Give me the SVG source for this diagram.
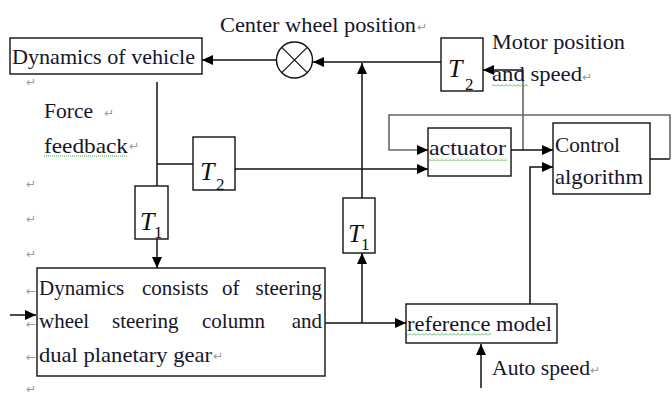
<svg xmlns="http://www.w3.org/2000/svg" width="672" height="399" viewBox="0 0 672 399" font-family="Liberation Serif, DejaVu Serif, serif">
<style>
.bg{fill:#fff}
.box{fill:#fff;stroke:#111;stroke-width:1.4}
.ln{fill:none;stroke:#111;stroke-width:1.5}
.gl{fill:none;stroke:#666;stroke-width:1.6}
.t{font-size:21px;fill:#15152c}
.m{font-style:italic;font-size:26px;fill:#111}
.s{font-size:17px;fill:#111}
.pm{font-size:12px;fill:#999}
</style>
<defs>
<marker id="ah" markerUnits="userSpaceOnUse" markerWidth="11" markerHeight="10" refX="11" refY="5" orient="auto">
<path d="M0 0 L11 5 L0 10 Z" fill="#000"/>
</marker>
<pattern id="wavy" width="4" height="3" patternUnits="userSpaceOnUse">
<path d="M0 2.5 L2 0.5 L4 2.5" fill="none" stroke="#3aa33a" stroke-width="0.8"/>
</pattern>
</defs>
<rect class="bg" x="0" y="0" width="672" height="399"/>

<g id="connectors">
<line class="ln" x1="277" y1="60" x2="202" y2="60" marker-end="url(#ah)"/>
<line class="ln" x1="441" y1="62" x2="313" y2="62" marker-end="url(#ah)"/>
<line class="ln" x1="362" y1="198" x2="362" y2="63" marker-end="url(#ah)"/>
<line class="gl" x1="523" y1="70" x2="523" y2="150"/>
<line class="ln" x1="523" y1="70" x2="483" y2="70" marker-end="url(#ah)"/>
<line class="ln" x1="157" y1="82" x2="157" y2="186"/>
<line class="ln" x1="157" y1="164" x2="193" y2="164"/>
<line class="ln" x1="235" y1="169" x2="428" y2="169" marker-end="url(#ah)"/>
<line class="ln" x1="157" y1="239" x2="157" y2="268" marker-end="url(#ah)"/>
<line class="ln" x1="325" y1="323" x2="406" y2="323" marker-end="url(#ah)"/>
<line class="ln" x1="362" y1="323" x2="362" y2="253" marker-end="url(#ah)"/>
<line class="ln" x1="481" y1="388" x2="481" y2="344" marker-end="url(#ah)"/>
<polyline class="ln" points="530,304 530,167 553,167" marker-end="url(#ah)"/>
<line class="ln" x1="511" y1="150" x2="553" y2="150" marker-end="url(#ah)"/>
<line class="ln" x1="650" y1="159" x2="670" y2="159"/>
<polyline class="gl" points="670,159 670,115 389,115 389,150 420,150"/>
<line class="ln" x1="418" y1="150" x2="428" y2="150" marker-end="url(#ah)"/>
<line class="ln" x1="10" y1="315" x2="36" y2="315" marker-end="url(#ah)"/>
</g>

<g id="vehicle">
<rect class="box" x="10" y="38" width="192" height="36"/>
<text class="t" x="12" y="64" textLength="183" lengthAdjust="spacingAndGlyphs">Dynamics of vehicle</text>
</g>

<g id="junction">
<circle cx="294.5" cy="60" r="18" fill="#fff" stroke="#111" stroke-width="1.4"/>
<path d="M281.8 47.3 L307.2 72.7 M307.2 47.3 L281.8 72.7" stroke="#111" stroke-width="1.2"/>
</g>

<g id="t2-top">
<rect class="box" x="441" y="38" width="42" height="53"/>
<text class="m" x="448" y="77">T</text>
<text class="s" x="465" y="90">2</text>
</g>

<g id="t2-mid">
<rect class="box" x="193" y="137" width="42" height="53"/>
<text class="m" x="200" y="180">T</text>
<text class="s" x="216" y="190">2</text>
</g>

<g id="t1-left">
<rect class="box" x="135" y="186" width="33" height="53"/>
<text class="m" x="140" y="230">T</text>
<text class="s" x="154" y="238">1</text>
</g>

<g id="t1-right">
<rect class="box" x="343" y="198" width="32" height="55"/>
<text class="m" x="348" y="242">T</text>
<text class="s" x="361" y="250">1</text>
</g>

<g id="actuator">
<rect class="box" x="428" y="128" width="83" height="48"/>
<text class="t" x="429" y="155" textLength="77" lengthAdjust="spacingAndGlyphs">actuator</text>
<rect x="429" y="158" width="78" height="3" fill="url(#wavy)"/>
</g>

<g id="control">
<rect class="box" x="553" y="123" width="97" height="71"/>
<text class="t" x="555" y="152" textLength="65" lengthAdjust="spacingAndGlyphs">Control</text>
<text class="t" x="555" y="184" textLength="88" lengthAdjust="spacingAndGlyphs">algorithm</text>
</g>

<g id="steering">
<rect class="box" x="37" y="268" width="288" height="108"/>
<text class="t" y="295"><tspan x="39">Dynamics</tspan><tspan x="142">consists</tspan><tspan x="222">of</tspan><tspan x="322" text-anchor="end">steering</tspan></text>
<text class="t" y="328"><tspan x="39">wheel</tspan><tspan x="112">steering</tspan><tspan x="202">column</tspan><tspan x="322" text-anchor="end">and</tspan></text>
<text class="t" x="39" y="362" textLength="173" lengthAdjust="spacingAndGlyphs">dual planetary gear</text>
</g>

<g id="reference">
<rect class="box" x="406" y="304" width="151" height="39"/>
<text class="t" x="407" y="331" textLength="145" lengthAdjust="spacingAndGlyphs">reference model</text>
<rect x="407" y="333" width="84" height="3" fill="url(#wavy)"/>
</g>

<g id="labels">
<text class="t" x="220" y="32" textLength="196" lengthAdjust="spacingAndGlyphs">Center wheel position</text>
<text class="t" x="492" y="49" textLength="133" lengthAdjust="spacingAndGlyphs">Motor position</text>
<text class="t" x="492" y="81" textLength="90" lengthAdjust="spacingAndGlyphs">and speed</text>
<rect x="492" y="84" width="36" height="3" fill="url(#wavy)"/>
<text class="t" x="44" y="118" textLength="49" lengthAdjust="spacingAndGlyphs">Force</text>
<text class="t" x="44" y="153" textLength="84" lengthAdjust="spacingAndGlyphs">feedback</text>
<line x1="44" y1="156" x2="128" y2="156" stroke="#3aa33a" stroke-width="1" stroke-dasharray="1 1"/>
<text class="t" x="492" y="375" textLength="98" lengthAdjust="spacingAndGlyphs">Auto speed</text>
</g>

<g id="marks" font-family="DejaVu Sans, sans-serif">
<text class="pm" x="417" y="31">↵</text>
<text class="pm" x="582" y="81">↵</text>
<text class="pm" x="104" y="117">↵</text>
<text class="pm" x="129" y="150">↵</text>
<text class="pm" x="26" y="86">↵</text>
<text class="pm" x="26" y="188">↵</text>
<text class="pm" x="26" y="223">↵</text>
<text class="pm" x="26" y="258">↵</text>
<text class="pm" x="26" y="393">↵</text>
<text class="pm" x="213" y="360">↵</text>
<text class="pm" x="590" y="374">↵</text>
<text class="pm" x="26" y="295" font-size="9">←</text>
<text class="pm" x="26" y="328" font-size="9">←</text>
<text class="pm" x="26" y="361" font-size="9">←</text>
</g>
</svg>
